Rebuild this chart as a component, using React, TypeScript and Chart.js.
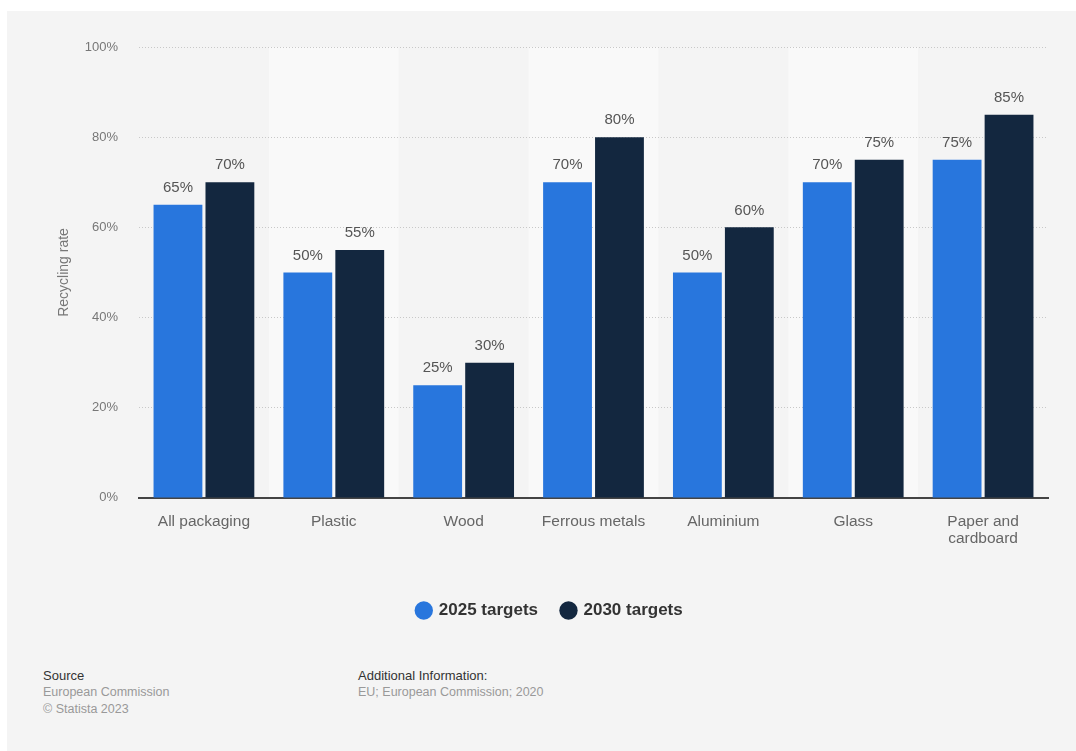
import React, { useEffect, useRef } from "react";
import { Chart, registerables } from "chart.js";

Chart.register(...registerables);

const categories: (string | string[])[] = [
  "All packaging",
  "Plastic",
  "Wood",
  "Ferrous metals",
  "Aluminium",
  "Glass",
  ["Paper and", "cardboard"],
];
const targets2025 = [65, 50, 25, 70, 50, 70, 75];
const targets2030 = [70, 55, 30, 80, 60, 75, 85];
const seriesNames = ["2025 targets", "2030 targets"];
const yTicks = [0, 20, 40, 60, 80, 100];

const FONT = "'Liberation Sans', Arial, Helvetica, sans-serif";
const BLUE = "#2876dd";
const NAVY = "#13273f";

const bandsPlugin = {
  id: "bands",
  beforeDraw(chart: any) {
    const { ctx, chartArea, scales } = chart;
    const x = scales.x;
    const n = categories.length;
    const w = (chartArea.right - chartArea.left) / n;
    ctx.save();
    ctx.fillStyle = "#f9f9f9";
    for (let i = 1; i < n; i += 2) {
      const c = x.getPixelForValue(i);
      ctx.fillRect(c - w / 2, chartArea.top, w, chartArea.bottom - chartArea.top);
    }
    ctx.restore();
  },
};

const labelsPlugin = {
  id: "valueLabels",
  afterDatasetsDraw(chart: any) {
    const { ctx } = chart;
    ctx.save();
    ctx.font = `15px ${FONT}`;
    ctx.fillStyle = "#555";
    ctx.textAlign = "center";
    ctx.textBaseline = "middle";
    chart.data.datasets.forEach((ds: any, di: number) => {
      const meta = chart.getDatasetMeta(di);
      meta.data.forEach((bar: any, i: number) => {
        ctx.fillText(`${ds.data[i]}%`, bar.x, bar.y - 17);
      });
    });
    ctx.restore();
  },
};

export default function App() {
  const ref = useRef<HTMLCanvasElement>(null);
  useEffect(() => {
    if (!ref.current) return;
    const chart = new Chart(ref.current, {
      type: "bar",
      data: {
        labels: categories,
        datasets: [
          { label: seriesNames[0], data: targets2025, backgroundColor: BLUE, borderWidth: 0 },
          { label: seriesNames[1], data: targets2030, backgroundColor: NAVY, borderWidth: 0 },
        ],
      },
      options: {
        animation: false,
        responsive: false,
        maintainAspectRatio: false,
        layout: { padding: { left: 45, right: 28, top: 36, bottom: 0 } },
        datasets: { bar: { categoryPercentage: 0.8, barPercentage: 0.94 } },
        scales: {
          x: {
            grid: { display: false },
            border: { display: true, color: "#444", width: 2 },
            ticks: {
              color: "#666",
              font: { family: FONT, size: 15.5, lineHeight: 1.1 },
              padding: 7,
              maxRotation: 0,
            },
            afterFit: (scale: any) => {
              scale.height += 24;
            },
          },
          y: {
            min: 0,
            max: 100,
            afterBuildTicks: (scale: any) => {
              scale.ticks = yTicks.map((v) => ({ value: v }));
            },
            afterFit: (scale: any) => {
              scale.width = 87;
            },
            grid: { color: "#c8c8c8", lineWidth: 1, drawTicks: false },
            border: { display: false, dash: [1, 2] },
            ticks: {
              color: "#777",
              font: { family: FONT, size: 13 },
              padding: 21,
              callback: (v: any) => `${v}%`,
            },
            title: {
              display: true,
              text: "Recycling rate",
              color: "#777",
              font: { family: FONT, size: 14 },
              padding: { top: 3.6, bottom: 0 },
            },
          },
        },
        plugins: {
          legend: {
            position: "bottom",
            labels: {
              usePointStyle: true,
              pointStyle: "circle",
              boxWidth: 13,
              boxHeight: 13,
              padding: 24,
              color: "#333",
              font: { family: FONT, size: 17, weight: "bold" },
            },
          },
          tooltip: { enabled: false },
        },
      },
      plugins: [bandsPlugin, labelsPlugin],
    });
    return () => chart.destroy();
  }, []);

  const footLabel: React.CSSProperties = {
    position: "absolute",
    fontFamily: FONT,
    fontSize: 13,
    lineHeight: "17px",
    color: "#333",
  };
  const footText: React.CSSProperties = { color: "#999", fontSize: 12.5 };

  return (
    <div style={{ position: "absolute", left: 0, top: 0, width: 1076, height: 751, background: "#fff", overflow: "hidden" }}>
      <div style={{ position: "absolute", left: 7, top: 11, width: 1069, height: 740, background: "#f4f4f4" }}>
        <canvas ref={ref} width={1069} height={618} style={{ position: "absolute", left: 0, top: 0, width: 1069, height: 618 }} />
        <div style={{ ...footLabel, left: 36, top: 656 }}>
          <div>Source</div>
          <div style={footText}>European Commission</div>
          <div style={footText}>© Statista 2023</div>
        </div>
        <div style={{ ...footLabel, left: 351, top: 656 }}>
          <div>Additional Information:</div>
          <div style={footText}>EU; European Commission; 2020</div>
        </div>
      </div>
    </div>
  );
}
